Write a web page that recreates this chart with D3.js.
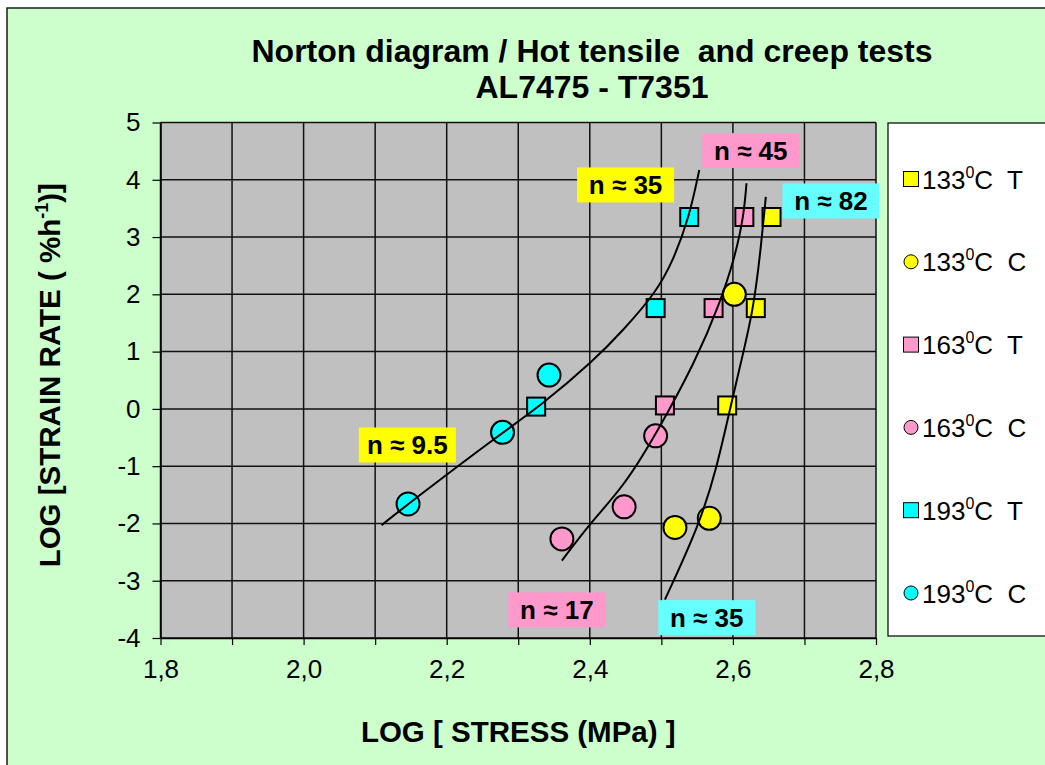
<!DOCTYPE html>
<html>
<head>
<meta charset="utf-8">
<script src="https://cdn.jsdelivr.net/npm/d3@7"></script>
<style>
  html, body { margin: 0; padding: 0; background: #ffffff; }
  svg { display: block; font-family: "Liberation Sans", Arial, sans-serif; }
  text { white-space: pre; }
</style>
</head>
<body>
<svg id="chart" width="1045" height="765"></svg>
<script>
// ---- data: log(stress, MPa) vs log(strain rate, %/h) ----
const titleLines = ["Norton diagram / Hot tensile  and creep tests", "AL7475 - T7351"];

const xTickValues = [1.8, 1.9, 2.0, 2.1, 2.2, 2.3, 2.4, 2.5, 2.6, 2.7, 2.8];
const xTickLabels = ["1,8", "", "2,0", "", "2,2", "", "2,4", "", "2,6", "", "2,8"];
const yTickValues = [5, 4, 3, 2, 1, 0, -1, -2, -3, -4];
const yTickLabels = ["5", "4", "3", "2", "1", "0", "-1", "-2", "-3", "-4"];

// hot tensile (T) and creep (C) tests per temperature
const tensile133 = [[2.654, 3.35], [2.632, 1.76], [2.592, 0.06]];
const creep133   = [[2.602, 2.00], [2.519, -2.07], [2.567, -1.91]];
const tensile163 = [[2.616, 3.35], [2.573, 1.76], [2.505, 0.06]];
const creep163   = [[2.492, -0.47], [2.448, -1.71], [2.361, -2.27]];
const tensile193 = [[2.539, 3.35], [2.492, 1.76], [2.325, 0.04]];
const creep193   = [[2.343, 0.59], [2.278, -0.41], [2.146, -1.66]];

// hand-fitted Norton curves, one per temperature
const fit193 = [[2.109, -2.03], [2.146, -1.66], [2.278, -0.41], [2.330, 0.04], [2.407, 0.86],
                [2.447, 1.38], [2.492, 2.02], [2.517, 2.60], [2.539, 3.35], [2.553, 4.17]];
const fit163 = [[2.361, -2.65], [2.400, -2.00], [2.447, -1.36], [2.491, -0.48], [2.549, 0.86],
                [2.582, 1.85], [2.603, 2.66], [2.615, 3.35], [2.619, 3.94]];
const fit133 = [[2.505, -3.33], [2.554, -2.00], [2.578, -1.00], [2.596, 0.00], [2.612, 0.85],
                [2.629, 1.76], [2.639, 2.80], [2.646, 3.70]];

// Norton exponents quoted along the curves
const nLabels = ["n \u2248 35", "n \u2248 45", "n \u2248 82", "n \u2248 9.5", "n \u2248 17", "n \u2248 35"];
const nLabelAnchors = [[2.450, 3.91], [2.625, 4.51], [2.737, 3.63], [2.145, -0.63], [2.354, -3.51], [2.5635, -3.645]];
const nLabelColors = ["#FFFF00", "#FF99CC", "#66FFFF", "#FFFF00", "#FF99CC", "#66FFFF"];

const legendTemps = ["133", "133", "163", "163", "193", "193"];
const legendTests = ["T", "C", "T", "C", "T", "C"];

// ---- layout ----
const svg = d3.select("#chart");
const plot = { left: 160.5, right: 876, top: 122.5, bottom: 638 };
const x = d3.scaleLinear().domain([1.8, 2.8]).range([plot.left, plot.right]);
const y = d3.scaleLinear().domain([-4, 5]).range([plot.bottom, plot.top]);

const colors = { y: "#FFFF00", p: "#FF99CC", c: "#00FFFF" };
const seriesList = [
  { pts: tensile133, shape: "square", fill: colors.y },
  { pts: creep133,   shape: "circle", fill: colors.y },
  { pts: tensile163, shape: "square", fill: colors.p },
  { pts: creep163,   shape: "circle", fill: colors.p },
  { pts: tensile193, shape: "square", fill: colors.c },
  { pts: creep193,   shape: "circle", fill: colors.c }
];

// chart area
svg.append("rect").attr("x", 7).attr("y", 8).attr("width", 1100).attr("height", 800)
  .attr("fill", "#CCFFCC").attr("stroke", "#1a1a1a").attr("stroke-width", 1.5);

// title
svg.selectAll("text.title").data(titleLines).enter().append("text")
  .attr("class", "title")
  .attr("x", 592).attr("y", (d, i) => 62 + i * 36)
  .attr("text-anchor", "middle")
  .attr("font-size", 32).attr("font-weight", "bold").attr("fill", "#000")
  .text(d => d);

// plot background
svg.append("rect")
  .attr("x", plot.left).attr("y", plot.top)
  .attr("width", plot.right - plot.left).attr("height", plot.bottom - plot.top)
  .attr("fill", "#C0C0C0");

// gridlines
const grid = svg.append("g").attr("stroke", "#111").attr("stroke-width", 1.5);
grid.selectAll("line.v").data(xTickValues).enter().append("line")
  .attr("x1", d => x(d)).attr("x2", d => x(d)).attr("y1", plot.top).attr("y2", plot.bottom);
grid.selectAll("line.h").data(yTickValues).enter().append("line")
  .attr("y1", d => y(d)).attr("y2", d => y(d)).attr("x1", plot.left).attr("x2", plot.right);

// axes
const xAxis = d3.axisBottom(x).tickValues(xTickValues).tickSize(7).tickSizeOuter(0)
  .tickFormat((d, i) => xTickLabels[i]);
const gx = svg.append("g").attr("transform", `translate(0,${plot.bottom})`).call(xAxis);
gx.select(".domain").attr("stroke", "#000").attr("stroke-width", 1.5);
gx.selectAll(".tick line").attr("stroke", "#000").attr("stroke-width", 1.2);
gx.selectAll(".tick text").attr("font-size", 26).attr("fill", "#000")
  .attr("font-family", "Liberation Sans, Arial, sans-serif").attr("y", 22).attr("dy", "0.71em");

const yAxis = d3.axisLeft(y).tickValues(yTickValues).tickSize(8).tickSizeOuter(0)
  .tickFormat((d, i) => yTickLabels[i]);
const gy = svg.append("g").attr("transform", `translate(${plot.left},0)`).call(yAxis);
gy.select(".domain").attr("stroke", "#000").attr("stroke-width", 1.5);
gy.selectAll(".tick line").attr("stroke", "#000").attr("stroke-width", 1.2);
gy.selectAll(".tick text").attr("font-size", 26).attr("fill", "#000")
  .attr("font-family", "Liberation Sans, Arial, sans-serif").attr("x", -20);

// axis titles
svg.append("text").attr("x", (plot.left + plot.right) / 2).attr("y", 742)
  .attr("text-anchor", "middle").attr("font-size", 29.5).attr("font-weight", "bold")
  .text("LOG [ STRESS (MPa) ]");

const yTitle = svg.append("text")
  .attr("transform", `translate(60,${(plot.top + plot.bottom) / 2 - 5}) rotate(-90)`)
  .attr("text-anchor", "middle").attr("font-size", 29.5).attr("font-weight", "bold");
yTitle.append("tspan").text("LOG [STRAIN RATE ( %h");
yTitle.append("tspan").attr("font-size", 18).attr("dy", -12).text("-1");
yTitle.append("tspan").attr("dy", 12).text(")]");

// markers
const markers = svg.append("g");
seriesList.forEach(s => {
  const g = markers.append("g");
  if (s.shape === "square") {
    g.selectAll("rect").data(s.pts).enter().append("rect")
      .attr("x", d => x(d[0]) - 9).attr("y", d => y(d[1]) - 9)
      .attr("width", 18).attr("height", 18)
      .attr("fill", s.fill).attr("stroke", "#000").attr("stroke-width", 2);
  } else {
    g.selectAll("circle").data(s.pts).enter().append("circle")
      .attr("cx", d => x(d[0])).attr("cy", d => y(d[1])).attr("r", 11.5)
      .attr("fill", s.fill).attr("stroke", "#000").attr("stroke-width", 2);
  }
});

// fitted curves
const line = d3.line().x(d => x(d[0])).y(d => y(d[1])).curve(d3.curveBasis);
svg.append("g").selectAll("path").data([fit193, fit163, fit133]).enter().append("path")
  .attr("d", line).attr("fill", "none").attr("stroke", "#000").attr("stroke-width", 2);

// exponent labels
const lab = svg.append("g").selectAll("g").data(nLabels).enter().append("g")
  .attr("transform", (d, i) => `translate(${x(nLabelAnchors[i][0])},${y(nLabelAnchors[i][1])})`);
lab.append("rect").attr("x", -48.5).attr("y", -17.5).attr("width", 97).attr("height", 35)
  .attr("fill", (d, i) => nLabelColors[i]);
lab.append("text").attr("text-anchor", "middle").attr("y", 9.5)
  .attr("font-size", 26).attr("font-weight", "bold").attr("fill", "#000")
  .text(d => d);

// legend
svg.append("rect").attr("x", 888).attr("y", 123).attr("width", 200).attr("height", 513)
  .attr("fill", "#fff").attr("stroke", "#000").attr("stroke-width", 1.2);
const leg = svg.append("g").selectAll("g").data(seriesList).enter().append("g")
  .attr("transform", (d, i) => `translate(0,${179 + i * 82.8})`);
leg.filter(d => d.shape === "square").append("rect")
  .attr("x", 903.5).attr("y", -7.5).attr("width", 15).attr("height", 15)
  .attr("fill", d => d.fill).attr("stroke", "#000").attr("stroke-width", 1);
leg.filter(d => d.shape === "circle").append("circle")
  .attr("cx", 911).attr("cy", 0).attr("r", 7)
  .attr("fill", d => d.fill).attr("stroke", "#000").attr("stroke-width", 1);
const legText = leg.append("text").attr("x", 922).attr("y", 9.5).attr("font-size", 26).attr("fill", "#000");
legText.append("tspan").text((d, i) => legendTemps[i]);
legText.append("tspan").attr("font-size", 16).attr("dy", -11).text("0");
legText.append("tspan").attr("dy", 11).text((d, i) => "C  " + legendTests[i]);
</script>
</body>
</html>
